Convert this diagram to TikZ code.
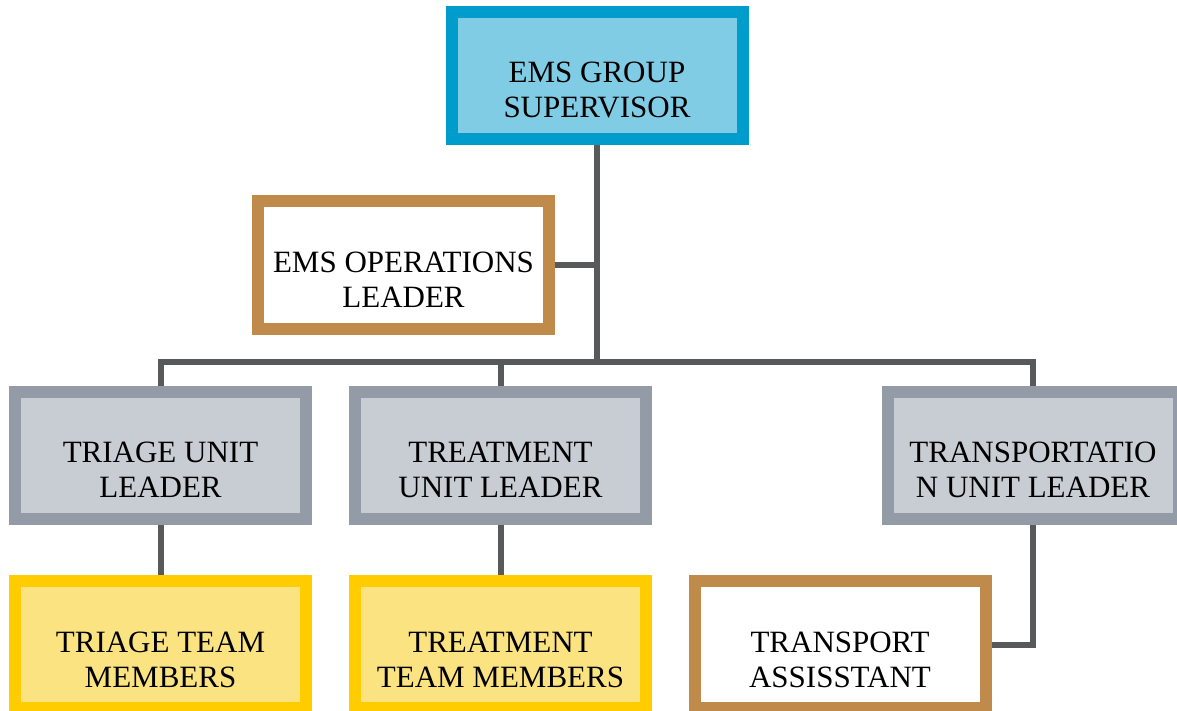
\documentclass[tikz,border=0pt]{standalone}
\usepackage{fontspec}
\setmainfont{Liberation Serif}
\definecolor{supfill}{HTML}{7FCCE4}
\definecolor{supline}{HTML}{009DCC}
\definecolor{opsline}{HTML}{BF8A4A}
\definecolor{unitfill}{HTML}{C8CDD4}
\definecolor{unitline}{HTML}{939CA6}
\definecolor{teamfill}{HTML}{FCE382}
\definecolor{teamline}{HTML}{FFCC00}
\definecolor{wire}{HTML}{58595B}
\begin{document}
\begin{tikzpicture}[x=1pt, y=-1pt,
	box/.style={rectangle, line width=12pt, minimum width=291pt, minimum height=127pt,
		align=center, inner sep=0pt, text height=85pt, text depth=0pt,
		font=\fontsize{31}{35}\selectfont},
	supbox/.style={box, draw=supline, fill=supfill},
	opsbox/.style={box, draw=opsline, fill=white},
	unitbox/.style={box, draw=unitline, fill=unitfill},
	teambox/.style={box, draw=teamline, fill=teamfill},
	wire/.style={draw=wire, line width=6pt, line join=miter}]
	% Page
	\useasboundingbox (0,0) rectangle (1177,711);
	
	% Boxes
	\node[supbox] (sup) at (597,75.5) {EMS GROUP\\SUPERVISOR};
	\node[opsbox] (ops) at (403.5,265) {EMS OPERATIONS\\LEADER};
	\node[unitbox] (triage) at (160.5,455) {TRIAGE UNIT\\LEADER};
	\node[unitbox] (treat) at (500.5,455) {TREATMENT\\UNIT LEADER};
	\node[unitbox] (transp) at (1033,455) {TRANSPORTATIO\\N UNIT LEADER};
	\node[teambox] (triteam) at (160.5,644.5) {TRIAGE TEAM\\MEMBERS};
	\node[teambox] (treatteam) at (500.5,644.5) {TREATMENT\\TEAM MEMBERS};
	\node[opsbox] (assist) at (840,644.5) {TRANSPORT\\ASSISSTANT};
	
	% Connectors
	\coordinate (bus) at (597,361.5);
	\draw[wire] (sup.south) -- (bus);
	\draw[wire] (ops.east) -- (ops.east -| sup.south);
	\draw[wire] (triage.north) |- (bus) -| (transp.north);
	\draw[wire] (treat.north) -- (treat.north |- bus);
	\draw[wire] (triage.south) -- (triteam.north);
	\draw[wire] (treat.south) -- (treatteam.north);
	\draw[wire] (transp.south) |- (assist.east);
\end{tikzpicture}
\end{document}
